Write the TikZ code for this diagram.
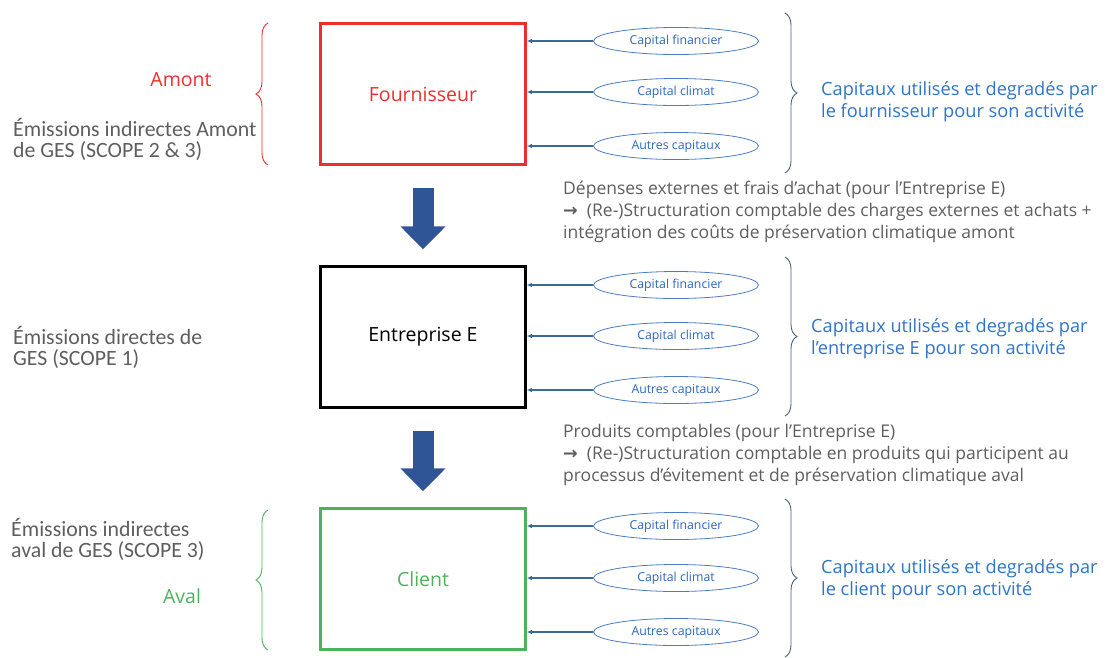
\documentclass[tikz,border=0pt]{standalone}
\usepackage{fontspec}
\setmainfont{Open Sans}
\newfontfamily\calibri{Carlito}
\newfontfamily\symb{DejaVu Sans}
\usetikzlibrary{arrows.meta}
\usetikzlibrary{positioning}
\usetikzlibrary{shapes.geometric}
\usetikzlibrary{decorations.pathreplacing}

\definecolor{boxred}{HTML}{EE2E2E}
\definecolor{boxgreen}{HTML}{4CB35A}
\definecolor{flowblue}{HTML}{2F5597}
\definecolor{linkblue}{HTML}{3A6A95}
\definecolor{ellblue}{HTML}{4A7CC4}
\definecolor{captxt}{HTML}{2B66B8}
\definecolor{usetxt}{HTML}{2E74C8}
\definecolor{graytxt}{HTML}{5E5E5E}
\definecolor{bracegray}{HTML}{4A6480}

\begin{document}
\begin{tikzpicture}[
  x=1pt, y=-1pt,
  box/.style={draw, line width=2.5pt, minimum width=205pt, minimum height=141pt, font=\fontsize{19.5}{22}\selectfont},
  capell/.style={ellipse, draw=ellblue, line width=0.8pt, minimum width=165pt, minimum height=27pt, inner sep=0pt, text=captxt, font=\fontsize{12.3}{14}\selectfont},
  arr/.style={-{Latex[length=5pt,width=4.5pt]}, draw=linkblue, line width=1.2pt},
  flow/.style={-{Triangle[width=44pt,length=23pt]}, draw=flowblue, line width=21pt, shorten <=22pt, shorten >=16pt},
  brc/.style={decorate, decoration={brace, amplitude=12pt}, line width=0.9pt, draw=bracegray},
  side/.style={anchor=base west, align=left, inner sep=0pt, text=graytxt, font=\calibri\fontsize{21.8}{20.5}\selectfont},
  tag/.style={anchor=base, inner sep=0pt, font=\fontsize{19.5}{22}\selectfont},
  note/.style={anchor=base west, align=left, inner sep=0pt, text=graytxt, font=\fontsize{17.5}{21.7}\selectfont},
  usage/.style={anchor=base west, align=left, inner sep=0pt, text=usetxt, font=\fontsize{18.2}{22}\selectfont}
]
\useasboundingbox (0,0) rectangle (1117,657);

%% Level 1: Fournisseur
\node[box, draw=boxred, text=boxred] (four) at (423,94) {Fournisseur};
\node[capell] (f1) at (676,41)  {Capital financier};
\node[capell] (f2) at (676,92)  {Capital climat};
\node[capell] (f3) at (676,146) {Autres capitaux};

\draw[arr] (f1.west) -- (f1.west -| four.east);
\draw[arr] (f2.west) -- (f2.west -| four.east);
\draw[arr] (f3.west) -- (f3.west -| four.east);

\draw[brc] (785,13) -- (785,173);
\node[usage] (fuse) at (821,117) {Capitaux utilisés et degradés par\\le fournisseur pour son activité};

\draw[brc, draw=boxred] (268,165) -- (268,23);
\node[tag, text=boxred] (amont) at (181,86) {Amont};
\node[side] (scope23) at (13,157) {Émissions indirectes Amont\\de GES (SCOPE 2 \& 3)};

%% Level 2: Entreprise E
\node[box] (ent) at (423,337) {Entreprise E};
\node[capell] (e1) at (676,285) {Capital financier};
\node[capell] (e2) at (676,336) {Capital climat};
\node[capell] (e3) at (676,390) {Autres capitaux};

\draw[arr] (e1.west) -- (e1.west -| ent.east);
\draw[arr] (e2.west) -- (e2.west -| ent.east);
\draw[arr] (e3.west) -- (e3.west -| ent.east);

\draw[brc] (785,257) -- (785,416);
\node[usage] (euse) at (811,354) {Capitaux utilisés et degradés par\\l’entreprise E pour son activité};

\node[side] (scope1) at (13,365) {Émissions directes de\\GES (SCOPE 1)};

%% Level 3: Client
\node[box, draw=boxgreen, text=boxgreen] (cli) at (423,579) {Client};
\node[capell] (c1) at (676,526) {Capital financier};
\node[capell] (c2) at (676,578) {Capital climat};
\node[capell] (c3) at (676,632) {Autres capitaux};

\draw[arr] (c1.west) -- (c1.west -| cli.east);
\draw[arr] (c2.west) -- (c2.west -| cli.east);
\draw[arr] (c3.west) -- (c3.west -| cli.east);

\draw[brc] (785,499) -- (785,657);
\node[usage] (cuse) at (821,595) {Capitaux utilisés et degradés par\\le client pour son activité};

\draw[brc, draw=boxgreen] (268,650) -- (268,510);
\node[tag, text=boxgreen] (aval) at (182,603) {Aval};
\node[side] (scope3) at (11,557) {Émissions indirectes\\aval de GES (SCOPE 3)};

%% Flows between levels
\draw[flow] (four.south) -- (ent.north);
\draw[flow] (ent.south) -- (cli.north);

\node[note] (achat) at (563,238) {Dépenses externes et frais d’achat (pour l’Entreprise E)\\{\symb\bfseries →}\ \ (Re-)Structuration comptable des charges externes et achats +\\intégration des coûts de préservation climatique amont};
\node[note] (produit) at (563,481) {Produits comptables (pour l’Entreprise E)\\{\symb\bfseries →}\ \ (Re-)Structuration comptable en produits qui participent au\\processus d’évitement et de préservation climatique aval};

\end{tikzpicture}
\end{document}
